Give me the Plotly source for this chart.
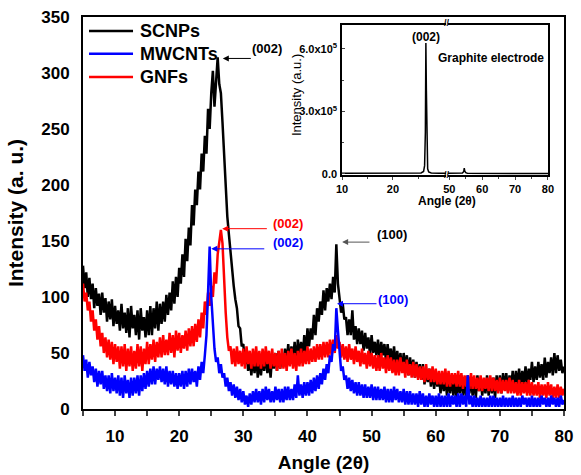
import numpy as np
import plotly.graph_objects as go

# XRD patterns, sampled every 0.25 deg from 5 to 80 (2-theta)
angle = np.round(np.arange(5, 80.001, 0.25), 2)

scnps = [
    128, 108, 122, 100, 117, 98, 112, 90, 108, 92, 103, 84, 104, 86, 99, 78,
    96, 80, 98, 74, 92, 76, 88, 70, 94, 72, 86, 68, 90, 64, 92, 72,
    84, 66, 88, 62, 90, 70, 82, 64, 88, 66, 92, 66, 90, 72, 96, 70,
    94, 76, 96, 78, 102, 84, 104, 88, 114, 94, 118, 100, 126, 112, 138, 118,
    152, 132, 162, 146, 182, 164, 196, 182, 212, 196, 228, 212, 244, 228, 268, 250,
    282, 302, 270, 296, 314, 290, 282, 256, 226, 194, 172, 156, 138, 124, 110, 98,
    90, 74, 72, 56, 58, 40, 52, 34, 46, 30, 46, 32, 50, 28, 42, 30,
    46, 34, 50, 32, 44, 28, 48, 36, 50, 34, 52, 36, 48, 38, 54, 40,
    58, 42, 56, 44, 60, 40, 62, 46, 60, 44, 66, 48, 72, 56, 72, 62,
    84, 66, 90, 78, 96, 84, 106, 88, 108, 96, 112, 98, 118, 104, 147, 112,
    100, 86, 94, 80, 82, 66, 80, 66, 88, 62, 74, 58, 72, 58, 70, 52,
    68, 54, 64, 48, 66, 50, 60, 48, 62, 44, 60, 48, 58, 42, 58, 44,
    54, 40, 56, 38, 52, 38, 50, 34, 50, 36, 48, 30, 46, 32, 44, 28,
    42, 28, 40, 26, 40, 22, 36, 24, 36, 20, 34, 18, 32, 20, 30, 14,
    30, 16, 28, 12, 28, 14, 30, 12, 26, 10, 28, 14, 30, 12, 26, 10,
    30, 14, 28, 12, 26, 10, 30, 16, 28, 12, 26, 14, 30, 12, 28, 14,
    28, 10, 30, 16, 30, 14, 32, 18, 32, 16, 30, 18, 34, 16, 34, 20,
    36, 20, 34, 22, 38, 22, 36, 26, 42, 24, 38, 26, 42, 28, 40, 26,
    46, 28, 42, 32, 46, 30, 50, 32, 48, 34, 44, 32, 38,
]

mwcnts = [
    48, 34, 44, 28, 42, 30, 38, 24, 36, 20, 34, 22, 34, 18, 30, 16,
    30, 14, 32, 16, 28, 14, 30, 12, 28, 10, 30, 14, 26, 10, 28, 12,
    28, 14, 30, 12, 30, 16, 32, 18, 34, 20, 36, 22, 38, 22, 36, 26,
    38, 24, 36, 22, 38, 20, 34, 22, 34, 20, 32, 18, 32, 20, 34, 18,
    34, 20, 36, 22, 36, 24, 34, 20, 38, 26, 42, 32, 48, 66, 104, 145,
    100, 70, 54, 42, 46, 32, 40, 28, 32, 20, 28, 16, 24, 12, 22, 10,
    20, 8, 18, 6, 16, 4, 12, 2, 14, 4, 16, 6, 18, 6, 16, 4,
    18, 6, 20, 8, 18, 6, 16, 6, 20, 8, 18, 6, 18, 6, 20, 8,
    20, 8, 18, 8, 22, 10, 30, 12, 22, 10, 24, 12, 24, 12, 26, 14,
    28, 16, 30, 18, 32, 22, 36, 26, 40, 32, 48, 42, 58, 52, 90, 70,
    48, 34, 38, 26, 30, 18, 28, 16, 26, 14, 24, 12, 24, 12, 22, 10,
    22, 10, 20, 10, 22, 8, 20, 8, 20, 8, 18, 8, 20, 6, 18, 6,
    18, 6, 20, 8, 18, 6, 16, 6, 18, 4, 16, 4, 16, 4, 14, 4,
    14, 2, 16, 4, 14, 2, 12, 2, 14, 4, 12, 2, 12, 2, 14, 2,
    12, 2, 12, 2, 14, 2, 12, 4, 12, 2, 14, 2, 14, 4, 12, 2,
    30, 4, 12, 2, 12, 2, 10, 2, 12, 2, 10, 2, 10, 2, 12, 2,
    12, 2, 10, 2, 10, 2, 12, 2, 10, 2, 10, 2, 12, 2, 10, 2,
    10, 2, 12, 4, 10, 2, 10, 2, 12, 2, 10, 2, 10, 2, 12, 4,
    10, 2, 10, 2, 12, 4, 10, 2, 10, 2, 12, 4, 8,
]

gnfs = [
    112, 96, 104, 88, 96, 78, 88, 70, 80, 62, 74, 56, 68, 50, 64, 46,
    62, 44, 60, 40, 58, 42, 56, 36, 56, 38, 58, 34, 54, 38, 56, 34,
    52, 36, 58, 38, 56, 34, 54, 40, 60, 40, 58, 44, 62, 42, 60, 46,
    64, 46, 66, 48, 62, 48, 68, 50, 66, 46, 70, 52, 68, 50, 66, 54,
    70, 52, 72, 56, 74, 56, 76, 60, 80, 64, 86, 72, 96, 84, 104, 92,
    110, 100, 122, 112, 138, 150, 160, 148, 112, 86, 64, 52, 56, 40, 54, 38,
    56, 40, 52, 38, 54, 36, 56, 40, 52, 36, 54, 38, 56, 38, 52, 36,
    54, 38, 56, 40, 52, 36, 54, 38, 50, 34, 52, 36, 54, 36, 50, 34,
    52, 38, 54, 36, 50, 34, 52, 38, 54, 38, 52, 40, 56, 40, 54, 42,
    56, 42, 58, 44, 58, 44, 60, 46, 60, 46, 62, 48, 62, 50, 66, 54,
    60, 46, 58, 44, 56, 42, 58, 44, 54, 40, 56, 42, 52, 38, 54, 40,
    50, 36, 52, 38, 50, 36, 48, 34, 48, 34, 50, 36, 46, 32, 48, 34,
    46, 32, 44, 30, 44, 30, 46, 32, 42, 28, 44, 30, 40, 28, 42, 28,
    40, 26, 38, 26, 38, 24, 40, 26, 36, 24, 38, 24, 36, 22, 34, 22,
    34, 22, 36, 20, 34, 20, 32, 22, 32, 20, 34, 20, 32, 18, 30, 20,
    30, 18, 32, 18, 30, 18, 28, 16, 30, 16, 28, 18, 28, 16, 30, 16,
    28, 16, 26, 14, 28, 14, 26, 16, 26, 14, 28, 14, 26, 14, 24, 12,
    26, 12, 24, 14, 24, 12, 26, 12, 24, 12, 22, 12, 24, 10, 22, 12,
    22, 10, 24, 12, 22, 10, 20, 10, 22, 10, 20, 12, 18,
]

series_names = ["SCNPs", "MWCNTs", "GNFs"]
series_colors = ["#000000", "#0000ff", "#ff0000"]

# inset: graphite electrode (broken x axis)
graphite_angle_a = [10, 15, 20, 24, 25.5, 26.0, 26.2, 26.35, 26.45, 26.55, 26.65, 26.8, 27.0, 27.5, 29, 31]
graphite_int_a = [3000, 2500, 2500, 3000, 5000, 12000, 40000, 200000, 628000, 400000, 90000, 25000, 10000, 5000, 3000, 3000]
graphite_angle_b = [49, 54.0, 54.4, 54.55, 54.7, 55.0, 55.5, 60, 70, 81]
graphite_int_b = [3000, 5000, 12000, 28000, 14000, 6000, 4000, 3000, 2500, 2500]

# peak labels
peak_text = ["(002)", "(002)", "(002)", "(100)", "(100)"]
peak_head_x = [26.8, 26.7, 25.0, 45.4, 44.6]
peak_head_y = [313, 161, 143, 149, 94]
peak_tail_x = [31.4, 33.9, 33.5, 49.9, 51.0]
peak_text_x = [33.7, 37.0, 37.0, 53.2, 53.3]
peak_text_y = [322, 166, 149, 156, 98]
peak_text_color = ["#000000", "#ff0000", "#0000ff", "#000000", "#0000ff"]
peak_arrow_color = ["#000000", "#ff0000", "#0000ff", "#555555", "#0000ff"]

FONT = "Arial, Liberation Sans, sans-serif"

fig = go.Figure()

# draw black first, then red, blue on top
for idx in [0, 2, 1]:
    vals = [scnps, mwcnts, gnfs][idx]
    fig.add_trace(go.Scatter(x=angle, y=vals, mode="lines", name=series_names[idx],
                             showlegend=False,
                             line=dict(color=series_colors[idx], width=2.5)))

fig.add_trace(go.Scatter(x=graphite_angle_a, y=graphite_int_a, mode="lines",
                         xaxis="x2", yaxis="y2", showlegend=False,
                         line=dict(color="#000000", width=1.5)))
fig.add_trace(go.Scatter(x=graphite_angle_b, y=graphite_int_b, mode="lines",
                         xaxis="x3", yaxis="y3", showlegend=False,
                         line=dict(color="#000000", width=1.5)))

# legend drawn by hand (longer line swatches than plotly's)
legend_y = [0.964, 0.906, 0.847]
for i, name in enumerate(series_names):
    fig.add_shape(type="line", xref="paper", yref="paper", x0=0.0125, x1=0.104,
                  y0=legend_y[i], y1=legend_y[i],
                  line=dict(color=series_colors[i], width=2.5))
    fig.add_annotation(x=0.114, y=legend_y[i], xref="paper", yref="paper", text=name,
                       xanchor="left", yanchor="middle", showarrow=False,
                       font=dict(size=18, weight="bold"))

for i in range(len(peak_text)):
    fig.add_annotation(x=peak_head_x[i], y=peak_head_y[i], ax=peak_tail_x[i], ay=peak_head_y[i],
                       xref="x", yref="y", axref="x", ayref="y", text="",
                       showarrow=True, arrowhead=2, arrowsize=1.2, arrowwidth=1,
                       arrowcolor=peak_arrow_color[i])
    fig.add_annotation(x=peak_text_x[i], y=peak_text_y[i], xref="x", yref="y",
                       text=peak_text[i], showarrow=False,
                       font=dict(size=13, color=peak_text_color[i], weight="bold"))

# inset texts
fig.add_annotation(x=26.5, y=6.55e5, xref="x2", yref="y2", text="(002)", showarrow=False,
                   font=dict(size=12, weight="bold"))
inset_notes = [("Graphite electrode", 0.848, 0.895, 0, 12, "bold"),
               ("Angle (2θ)", 0.757, 0.53, 0, 12, "bold"),
               ("Intensity (a.u.)", 0.443, 0.801, -90, 13, "normal"),
               ("//", 0.7568, 0.984, 0, 9, "bold"),
               ("//", 0.7568, 0.598, 0, 9, "bold")]
for txt, px, py, ang, size, weight in inset_notes:
    fig.add_annotation(x=px, y=py, xref="paper", yref="paper", text=txt, textangle=ang,
                       xanchor="center", yanchor="middle", showarrow=False,
                       font=dict(size=size, weight=weight))

inset_axis = dict(showline=True, linecolor="#000000", linewidth=1.5, showgrid=False,
                  zeroline=False, ticks="outside", ticklen=3, tickwidth=1, automargin=False,
                  tickfont=dict(size=11, weight="bold"))

fig.update_layout(
    width=581, height=475,
    margin=dict(l=83, r=17, t=17, b=66),
    plot_bgcolor="#ffffff", paper_bgcolor="#ffffff",
    font=dict(family=FONT, color="#000000"),
    showlegend=False,
    xaxis=dict(range=[5, 80], domain=[0, 1], showline=True, linecolor="#000000", linewidth=2,
               mirror=True, showgrid=False, zeroline=False, automargin=False,
               tickvals=[10, 20, 30, 40, 50, 60, 70, 80], ticks="outside", ticklen=5, tickwidth=1.5,
               minor=dict(tickvals=[5, 15, 25, 35, 45, 55, 65, 75], ticks="outside", ticklen=5, tickwidth=1.5),
               ticklabelstandoff=6,
               tickfont=dict(size=17, weight="bold"),
               title=dict(text="Angle (2θ)", font=dict(size=19, weight="bold"), standoff=10)),
    yaxis=dict(range=[0, 350], domain=[0, 1], showline=True, linecolor="#000000", linewidth=2,
               mirror=True, showgrid=False, zeroline=False, dtick=50, ticks="",
               ticklabelstandoff=8, automargin=False,
               tickfont=dict(size=17, weight="bold"),
               title=dict(text="Intensity (a. u.)", font=dict(size=21, weight="bold"), standoff=12)),
    xaxis2=dict(inset_axis, domain=[0.5385, 0.7547], range=[10, 30.4], anchor="y2", mirror=True,
                tickvals=[10, 20], minor=dict(tickvals=[15, 25], ticks="outside", ticklen=2)),
    xaxis3=dict(inset_axis, domain=[0.7588, 0.9667], range=[49.6, 80], anchor="y2", mirror=True,
                tickvals=[50, 60, 70, 80], minor=dict(tickvals=[55, 65, 75], ticks="outside", ticklen=2)),
    yaxis2=dict(inset_axis, domain=[0.5969, 0.9796], range=[-5000, 7.14e5], anchor="x2",
                ticks="inside", tickvals=[0, 3e5, 6e5], ticklabelstandoff=1,
                ticktext=["0.0", "3.0x10<sup>5</sup>", "6.0x10<sup>5</sup>"],
                minor=dict(tickvals=[1.5e5, 4.5e5], ticks="inside", ticklen=2)),
    yaxis3=dict(showline=True, linecolor="#000000", linewidth=1.5, showgrid=False, zeroline=False,
                domain=[0.5969, 0.9796], range=[-5000, 7.14e5], matches="y2", anchor="x3",
                side="right", showticklabels=False, ticks="", automargin=False),
)

# the default page adds an 8px body margin; remove it so the figure fills the window
fig.write_html("out.html", config={"displayModeBar": False},
               post_script="document.body.style.margin = '0px';")
